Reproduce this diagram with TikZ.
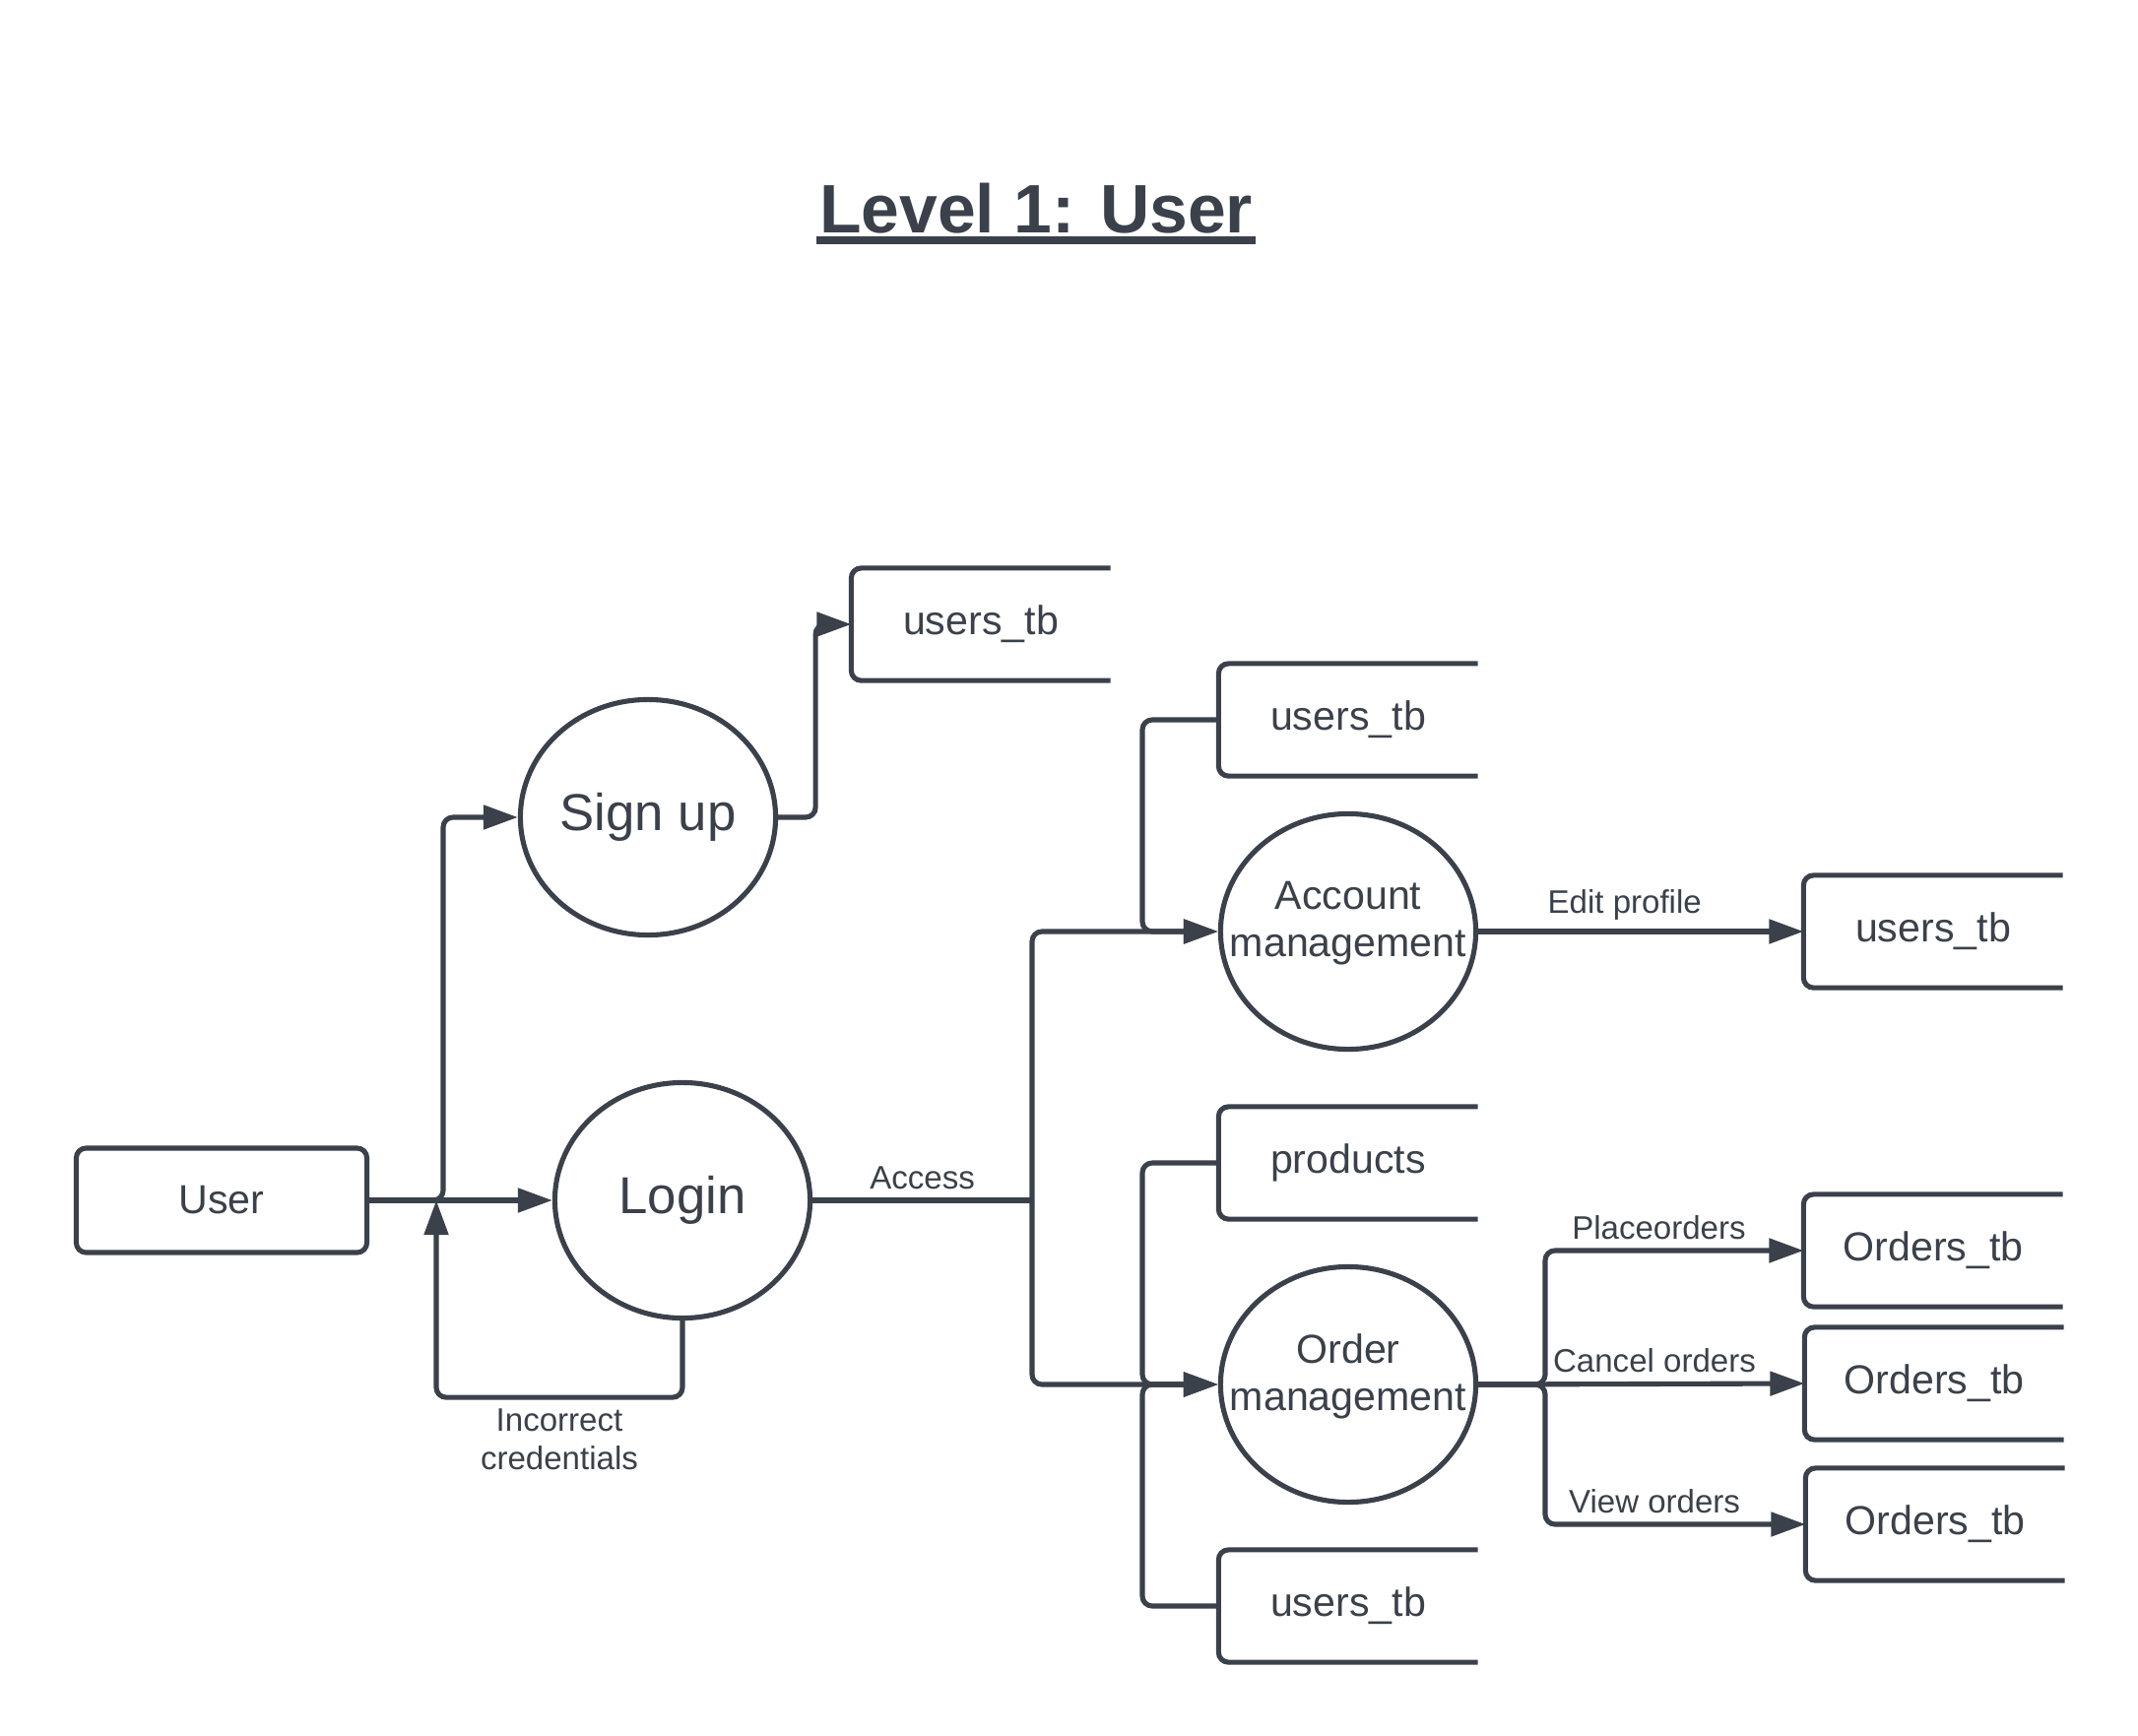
\documentclass[tikz,border=0pt]{standalone}
\usepackage{fontspec}
\setmainfont{Liberation Sans}
\usetikzlibrary{arrows.meta, positioning, shapes.geometric, calc}
\definecolor{ink}{RGB}{58,65,74}

\begin{document}
\begin{tikzpicture}[x=0.01cm, y=-0.01cm, line width=1.45pt, color=ink,
      flow/.style={-{Triangle[length=3.5mm, width=2.4mm]}, rounded corners=1mm},
      entity/.style={rectangle, draw, rounded corners=1mm, minimum width=29.5mm, minimum height=10.6mm, font=\fontsize{11.7}{14}\selectfont},
      process/.style={ellipse, draw, minimum width=25.9mm, minimum height=23.9mm, inner sep=0pt},
      bigprocess/.style={process, font=\fontsize{15}{18}\selectfont},
      proctext/.style={align=center, yshift=0.8mm, font=\fontsize{11.7}{13.7}\selectfont},
      store/.style={rectangle, minimum width=25.8mm, minimum height=10.9mm, font=\fontsize{11.7}{14}\selectfont},
      lbl/.style={font=\fontsize{9.4}{11}\selectfont, inner sep=0.9mm, align=center}]

      \useasboundingbox (0,0) rectangle (2171,1763);

      % Title
      \node[anchor=base, inner sep=0pt, font=\bfseries\fontsize{19.8}{24}\selectfont] (title) at (1052,236) {Level 1: User};
      \draw[line width=2.3pt] ($(title.base west)+(0,8)$) -- ($(title.base east)+(0,8)$);

      % Entity and processes
      \node[entity] (user) at (225,1219) {User};
      \node[bigprocess] (signup) at (658,830) {Sign up};
      \node[bigprocess] (login) at (693,1219) {Login};
      \node[process, label={[proctext]center:{Account\\management}}] (acct) at (1369,946) {};
      \node[process, label={[proctext]center:{Order\\management}}] (order) at (1369,1406) {};

      % Data stores
      \node[store] (signupdb) at (996,634) {users\_tb};
      \node[store] (acctdb) at (1369,731) {users\_tb};
      \node[store] (profiledb) at (1963,946) {users\_tb};
      \node[store] (productdb) at (1369,1181) {products};
      \node[store] (userdb) at (1369,1631) {users\_tb};
      \node[store] (placedb) at (1963,1270) {Orders\_tb};
      \node[store] (canceldb) at (1964,1405) {Orders\_tb};
      \node[store] (viewdb) at (1965,1548) {Orders\_tb};
      \foreach \db in {signupdb, acctdb, profiledb, productdb, userdb, placedb, canceldb, viewdb}
        \draw[rounded corners=1mm] (\db.north east) -- (\db.north west) -- (\db.south west) -- (\db.south east);

      % Junctions
      \coordinate (usersplit) at (450,1219);
      \coordinate (retry) at (443,1219);
      \coordinate (accesssplit) at (1048,1219);
      \coordinate (acctjoin) at (1160,946);
      \coordinate (orderjoin) at (1160,1406);
      \coordinate (ordersplit) at (1569,1406);

      % User side
      \draw[flow] (user.east) -- (login.west);
      \draw[flow] (user.east) -- (usersplit) |- (signup.west);
      \draw[flow] (signup.east) -- ++(38,0) |- (signupdb.west);
      \draw[flow] (login.south) -- ++(0,78) -| node[lbl, below, pos=0.25] {Incorrect\\credentials} (retry);

      % Access branches
      \draw[rounded corners=1mm] (login.east) -- node[lbl, above] {Access} (accesssplit);
      \draw[flow] (accesssplit) |- (acct.west);
      \draw[flow] (accesssplit) |- (order.west);

      % Store reads
      \draw[flow] (acctdb.west) -| (acctjoin) -- (acct.west);
      \draw[flow] (productdb.west) -| (orderjoin) -- (order.west);
      \draw[flow] (userdb.west) -| (orderjoin) -- (order.west);

      % Outputs
      \draw[flow] (acct.east) -- node[lbl, above, pos=0.45] {Edit profile} (profiledb.west);
      \draw[flow] (order.east) -- (ordersplit) |- node[lbl, above, pos=0.72] {Placeorders} (placedb.west);
      \draw[flow] (order.east) -- node[lbl, above, pos=0.54] {Cancel orders} (canceldb.west);
      \draw[flow] (order.east) -- (ordersplit) |- node[lbl, above, pos=0.71] {View orders} (viewdb.west);
    \end{tikzpicture}
\end{document}
